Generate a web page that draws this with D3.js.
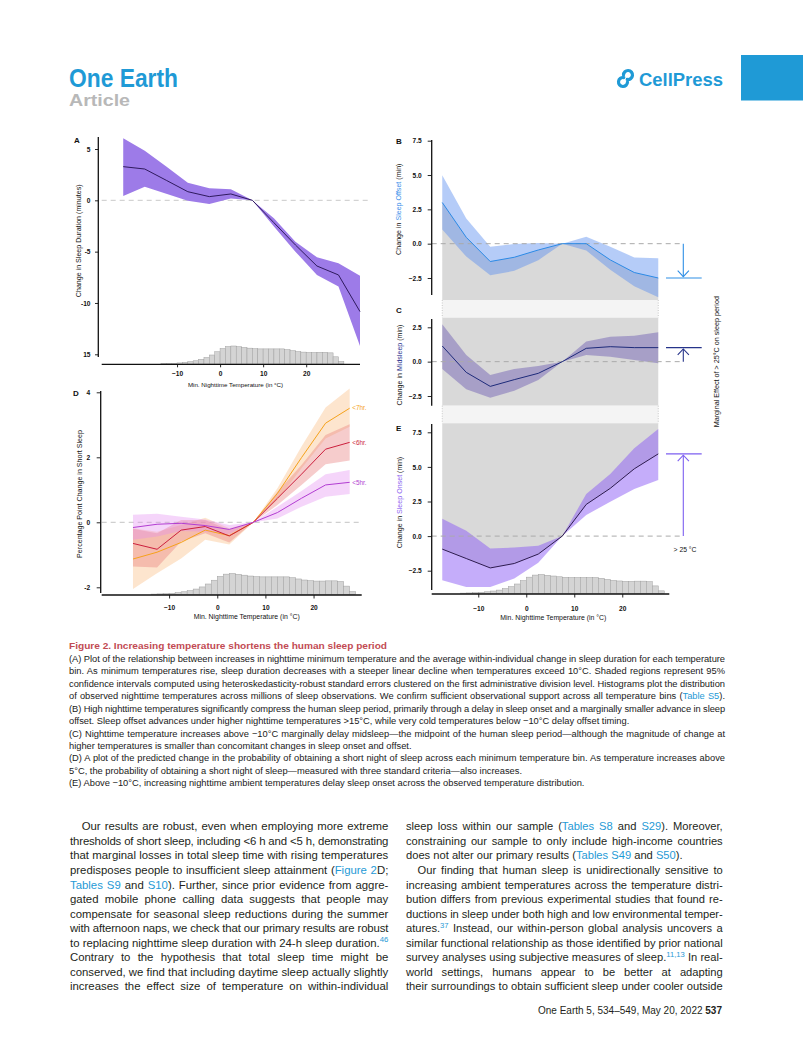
<!DOCTYPE html>
<html><head><meta charset="utf-8">
<script src="https://cdn.jsdelivr.net/npm/d3@7/dist/d3.min.js"></script>
<style>
html,body{margin:0;padding:0;background:#fff;}
svg{display:block;}
</style></head>
<body>
<svg id="page" width="803" height="1043" viewBox="0 0 803 1043"></svg>
<script>
// ================= DATA =================
const binsA = [-22.5,-17.5,-12.5,-7.5,-2.5,2.5,7.5,12.5,17.5,22.5,27.5,32.5];
const durationMid = [3.28,3.05,1.95,0.84,0.36,0.62,0,-2.18,-4.35,-6.4,-7.27,-10.84];
const durationLo  = [0.42,1.33,0.65,-0.03,-0.36,0.19,0,-2.56,-5.0,-7.27,-8.4,-14.2];
const durationHi  = [6.04,4.84,3.3,1.72,1.17,1.07,0,-1.75,-4.03,-5.55,-6.14,-7.34];

const bins = [-17.5,-12.5,-7.5,-2.5,2.5,7.5,12.5,17.5,22.5,27.5];
const offsetMid = [3.0,0.46,-1.3,-0.99,-0.46,0,0,-1.18,-2.1,-2.5];
const offsetLo  = [1.04,-0.94,-2.3,-1.98,-1.2,0,-0.5,-1.9,-3.1,-3.9];
const offsetHi  = [4.98,1.84,-0.22,-0.02,0.05,0,0.5,-0.22,-1.0,-1.06];

const midMid = [1.14,-0.78,-1.8,-1.31,-0.85,0,0.97,1.09,1.02,1.02];
const midLo  = [-0.53,-2.0,-2.62,-2.11,-1.33,0,0.49,0.36,0.12,-0.12];
const midHi  = [2.72,0.49,-0.97,-0.53,-0.32,0,1.46,1.82,1.89,2.14];

const onsetMid = [-0.94,-1.62,-2.3,-1.98,-1.3,0,2.29,3.45,4.86,5.94];
const onsetLo  = [-3.19,-3.67,-3.67,-3.07,-1.93,0,1.52,2.49,3.41,4.06];
const onsetHi  = [1.26,0.39,-0.9,-0.82,-0.7,0,3.04,4.49,6.35,7.73];

const short5Mid = [-0.16,-0.06,-0.03,-0.1,-0.22,0,0.3,0.74,1.15,1.23];
const short5Lo  = [-0.54,-0.44,-0.27,-0.29,-0.36,0,0.12,0.48,0.79,0.87];
const short5Hi  = [0.23,0.26,0.17,0.09,-0.08,0,0.48,0.96,1.48,1.61];
const short6Mid = [-0.65,-0.83,-0.24,-0.13,-0.42,0,0.74,1.48,2.25,2.46];
const short6Lo  = [-1.36,-1.39,-0.59,-0.34,-0.62,0,0.53,1.15,1.79,1.9];
const short6Hi  = [-0.2,-0.34,0.07,0.07,-0.24,0,0.94,1.76,2.69,3.02];
const short7Mid = [-1.13,-0.92,-0.62,-0.24,-0.41,0,0.89,1.99,3.05,3.51];
const short7Lo  = [-2.05,-1.57,-1.11,-0.54,-0.68,0,0.69,1.66,2.58,2.94];
const short7Hi  = [-0.18,-0.29,-0.08,0.14,-0.18,0,1.05,2.33,3.53,4.12];
const shortLabels = ["<5hr.","<6hr.","<7hr."];

const histBinStart = -13.75, histBinWidth = 1.25;
const histHeights = [0.02,0.03,0.04,0.06,0.09,0.13,0.18,0.26,0.36,0.50,0.68,0.86,0.97,1.0,0.96,0.92,0.88,0.85,0.84,0.84,0.84,0.84,0.84,0.80,0.74,0.69,0.66,0.64,0.64,0.65,0.65,0.62,0.40,0.14];

const ticksTemp = [-10,0,10,20];
const ticksA = [5,0,-5,-10,-15];
const tickLabelsA = ["5","0","-5","-10","15"];
const ticksD = [4,2,0,-2];
const tickLabelsD = ["4","2","0","-2"];
const ticksOffsetOnset = [7.5,5,2.5,0,-2.5];
const ticksMid = [2.5,0,-2.5];

// ================= SETUP =================
const svg = d3.select('#page');
const FONT = '"Liberation Sans", Arial, Helvetica, sans-serif';
const NARROW = '"Liberation Sans Narrow", "Liberation Sans", Arial, sans-serif';
const BLUE = '#1f9ad6';
const INK = '#111';

function txt(x, y, s, o = {}) {
  const t = svg.append('text').attr('x', x).attr('y', y).text(s)
    .attr('font-family', o.family || FONT).attr('font-size', o.size || 7)
    .attr('font-weight', o.weight || 'normal').attr('fill', o.fill || INK)
    .attr('text-anchor', o.anchor || 'start');
  if (o.rotate) t.attr('transform', `rotate(${o.rotate},${x},${y})`);
  if (o.len) t.attr('textLength', o.len).attr('lengthAdjust', 'spacingAndGlyphs');
  return t;
}

function axisLeftAt(scale, x, ticks, labels, y0, y1, tickSize, pad, fs) {
  const g = svg.append('g').attr('transform', `translate(${x},0)`)
    .call(d3.axisLeft(scale).tickValues(ticks).tickFormat((d, i) => labels[i]).tickSize(tickSize).tickPadding(pad));
  g.select('.domain').remove();
  g.attr('font-family', FONT).attr('font-size', fs).attr('font-weight', 'bold');
  g.selectAll('.tick line').attr('stroke', INK).attr('stroke-width', 0.9);
  g.selectAll('.tick text').attr('fill', INK);
  g.append('line').attr('x1', 0).attr('x2', 0).attr('y1', y0).attr('y2', y1).attr('stroke', INK).attr('stroke-width', 1.3);
}
function axisBottomAt(scale, y, ticks, x0, x1, tickSize, pad, fs) {
  const g = svg.append('g').attr('transform', `translate(0,${y})`)
    .call(d3.axisBottom(scale).tickValues(ticks).tickFormat(d3.format('d')).tickSize(tickSize).tickPadding(pad));
  g.select('.domain').remove();
  g.attr('font-family', FONT).attr('font-size', fs).attr('font-weight', 'bold');
  g.selectAll('.tick line').attr('stroke', INK).attr('stroke-width', 0.9);
  g.selectAll('.tick text').attr('fill', INK);
  g.append('line').attr('x1', x0).attr('x2', x1).attr('y1', 0).attr('y2', 0).attr('stroke', INK).attr('stroke-width', 1.3);
}
function histogram(xs, base, maxH) {
  const g = svg.append('g');
  g.selectAll('rect').data(histHeights).join('rect')
    .attr('x', (d, i) => xs(histBinStart + i * histBinWidth))
    .attr('width', (d, i) => xs(histBinStart + (i + 1) * histBinWidth) - xs(histBinStart + i * histBinWidth))
    .attr('y', d => base - d * maxH).attr('height', d => d * maxH)
    .attr('fill', '#d4d4d4').attr('stroke', '#a0a0a0').attr('stroke-width', 0.5);
}
function band(xs, ys, xv, lo, hi, fill, op) {
  const a = d3.area().x((d, i) => xs(xv[i])).y0((d, i) => ys(lo[i])).y1((d, i) => ys(hi[i]));
  svg.append('path').datum(xv).attr('d', a).attr('fill', fill).attr('fill-opacity', op);
}
function line(xs, ys, xv, v, color, w = 1) {
  const l = d3.line().x((d, i) => xs(xv[i])).y((d, i) => ys(v[i]));
  svg.append('path').datum(xv).attr('d', l).attr('fill', 'none').attr('stroke', color).attr('stroke-width', w).attr('stroke-linejoin', 'round');
}
function zeroLine(y, x0, x1, color = '#b5b5b5') {
  svg.append('line').attr('x1', x0).attr('x2', x1).attr('y1', y).attr('y2', y)
    .attr('stroke', color).attr('stroke-width', 1).attr('stroke-dasharray', '5,4');
}

// ================= HEADER =================
txt(69, 86.7, 'One Earth', {family: NARROW, weight: 'bold', size: 25, fill: BLUE, len: 109});
txt(69, 105.5, 'Article', {family: NARROW, weight: 'bold', size: 16, fill: '#b8b8b8', len: 61});
svg.append('rect').attr('x', 741).attr('y', 55).attr('width', 62).attr('height', 45.5).attr('fill', BLUE);
txt(639, 85.7, 'CellPress', {family: NARROW, weight: 'bold', size: 19, fill: BLUE, len: 84});
const logo = svg.append('g').attr('transform', 'translate(625.5,78.5)')
  .attr('fill', 'none').attr('stroke', BLUE).attr('stroke-width', 3.2).attr('stroke-linecap', 'round');
logo.append('path').attr('d', 'M -2 -3.5 A 4.5 4.5 0 1 1 1.72 0.93');
logo.append('path').attr('d', 'M 2 3.5 A 4.5 4.5 0 1 1 -1.72 -0.93');

// ================= PANEL A =================
const xA = d3.scaleLinear().domain([-27.5, 32.5]).range([101.7, 360]);
const yA = d3.scaleLinear().domain([-15, 5]).range([354.3, 149]);
histogram(xA, 364, 18);
zeroLine(yA(0), 101.7, 370, '#c9c9c9');
band(xA, yA, binsA, durationLo, durationHi, '#9d7be8', 1);
line(xA, yA, binsA, durationMid, '#2f1a5e', 1);
axisLeftAt(yA, 98.3, ticksA, tickLabelsA, 137, 357, 3.3, 4.5, 6.6);
axisBottomAt(xA, 364.3, ticksTemp, 101.7, 360, 3, 4.2, 6.6);
txt(74, 143, 'A', {weight: 'bold', size: 8});
txt(81.5, 240.8, 'Change in Sleep Duration (minutes)', {size: 7.1, anchor: 'middle', rotate: -90});
txt(235.5, 387.2, 'Min. Nighttime Temperature (in °C)', {size: 6.2, anchor: 'middle'});

// ================= PANEL D =================
const xD = d3.scaleLinear().domain([-24, 30]).range([101.7, 361.7]);
const yD = d3.scaleLinear().domain([-2, 4]).range([587.3, 392.3]);
zeroLine(yD(0), 101.7, 362, '#c3c3c3');
band(xD, yD, bins, short7Lo, short7Hi, '#f9b878', 0.36);
band(xD, yD, bins, short6Lo, short6Hi, '#e87878', 0.38);
band(xD, yD, bins, short5Lo, short5Hi, '#e48af0', 0.36);
histogram(xD, 594.5, 21);
line(xD, yD, bins, short7Mid, '#f5a21b', 1);
line(xD, yD, bins, short6Mid, '#cc1f3d', 1);
line(xD, yD, bins, short5Mid, '#b23dd2', 1);
const shortLast = [short5Mid, short6Mid, short7Mid].map(a => a[a.length - 1]);
const shortCols = ['#b23dd2', '#cc1f3d', '#f5a21b'];
shortLabels.forEach((s, i) => txt(xD(bins[bins.length - 1]) + 2.5, yD(shortLast[i]) + 2.2, s, {size: 6.4, fill: shortCols[i]}));
axisLeftAt(yD, 100.7, ticksD, tickLabelsD, 391, 593, 4, 6.5, 6.6);
axisBottomAt(xD, 595, ticksTemp, 101.7, 361.7, 3.5, 6.9, 6.6);
txt(73, 395.5, 'D', {weight: 'bold', size: 8});
txt(81.5, 494, 'Percentage Point Change in Short Sleep', {size: 7.1, anchor: 'middle', rotate: -90});
txt(246.7, 619.3, 'Min. Nighttime Temperature (in °C)', {size: 6.9, anchor: 'middle'});

// ================= PANELS B, C, E =================
const xR = d3.scaleLinear().domain([-19.7, 29.8]).range([431.7, 669.3]);
const yB = d3.scaleLinear().domain([-2.5, 7.5]).range([278, 140.7]);
const yC = d3.scaleLinear().domain([-2.5, 2.5]).range([396, 327.3]);
const yE = d3.scaleLinear().domain([-2.5, 7.5]).range([570.7, 432.3]);
const GRAY = '#d9d9d9';
const colL = xR(bins[0]), colR = xR(bins[bins.length - 1]);
const bBottom = 300, cTop = 317.7, cBottom = 405.7, eTop = 423.3;

// sleep-period column
svg.append('path').datum(bins).attr('fill', GRAY)
  .attr('d', d3.area().x((d, i) => xR(bins[i])).y0(bBottom).y1((d, i) => yB(offsetMid[i])));
svg.append('rect').attr('x', colL).attr('y', bBottom).attr('width', colR - colL).attr('height', cTop - bBottom).attr('fill', '#f4f4f4');
svg.append('rect').attr('x', colL).attr('y', cTop).attr('width', colR - colL).attr('height', cBottom - cTop).attr('fill', GRAY);
svg.append('rect').attr('x', colL).attr('y', cBottom).attr('width', colR - colL).attr('height', eTop - cBottom).attr('fill', '#f4f4f4');
svg.append('path').datum(bins).attr('fill', GRAY)
  .attr('d', d3.area().x((d, i) => xR(bins[i])).y0(eTop).y1((d, i) => yE(onsetMid[i])));
[[bBottom, cTop], [cBottom, eTop]].forEach(([a, b]) => {
  [colL, colR].forEach(x => svg.append('line').attr('x1', x).attr('x2', x).attr('y1', a).attr('y2', b)
    .attr('stroke', '#bdbdbd').attr('stroke-width', 0.8).attr('stroke-dasharray', '1,1.5'));
});

band(xR, yB, bins, offsetLo, offsetHi, '#5a8ff0', 0.45);
band(xR, yC, bins, midLo, midHi, '#7565b5', 0.5);
band(xR, yE, bins, onsetLo, onsetHi, '#8c5cf5', 0.5);
histogram(xR, 593.5, 19);

const arrowX = 683.3;
zeroLine(yB(0), 431.7, arrowX, '#aaaaaa');
zeroLine(yC(0), 431.7, arrowX, '#aaaaaa');
zeroLine(yE(0), 431.7, arrowX, '#aaaaaa');

line(xR, yB, bins, offsetMid, '#2b8ae6', 1);
line(xR, yC, bins, midMid, '#1d2a7a', 1);
line(xR, yE, bins, onsetMid, '#2d1b4e', 1);

function marginalArrow(ys, series, color) {
  const v = series[series.length - 1];
  const yv = ys(v), y0 = ys(0);
  const dir = v < 0 ? 1 : -1;          // 1 = pointing down
  const tip = yv - dir * 1.3;
  const g = svg.append('g').attr('stroke', color).attr('fill', 'none').attr('stroke-width', 1.1);
  g.append('line').attr('x1', 666).attr('x2', 701.7).attr('y1', yv).attr('y2', yv);
  g.append('line').attr('x1', arrowX).attr('x2', arrowX).attr('y1', y0).attr('y2', tip);
  g.append('polyline').attr('points', `${arrowX - 5.6},${tip - dir * 6} ${arrowX},${tip} ${arrowX + 5.6},${tip - dir * 6}`);
}
marginalArrow(yB, offsetMid, '#2f8fe6');
marginalArrow(yC, midMid, '#26348a');
marginalArrow(yE, onsetMid, '#7d5ff0');
txt(685, 551.8, '> 25 °C', {size: 6.8, anchor: 'middle'});
txt(719.3, 361.7, 'Marginal Effect of > 25°C on sleep period', {size: 7.2, anchor: 'middle', rotate: -90});

axisLeftAt(yB, 431.7, ticksOffsetOnset, ticksOffsetOnset.map(d3.format('.1f')), 140, 295, 4, 6, 6.6);
axisLeftAt(yC, 431.7, ticksMid, ticksMid.map(d3.format('.1f')), 319, 405.7, 4, 6, 6.6);
axisLeftAt(yE, 431.7, ticksOffsetOnset, ticksOffsetOnset.map(d3.format('.1f')), 424, 590, 4, 6, 6.6);
axisBottomAt(xR, 594, ticksTemp, 431.7, 669.3, 3.5, 8.5, 6.6);
txt(396, 144, 'B', {weight: 'bold', size: 8});
txt(396, 313, 'C', {weight: 'bold', size: 8});
txt(396, 430.5, 'E', {weight: 'bold', size: 8});

function colouredTitle(x, y, pre, key, post, colour) {
  const t = svg.append('text').attr('x', x).attr('y', y).attr('font-family', FONT).attr('font-size', 7.1)
    .attr('fill', INK).attr('text-anchor', 'middle').attr('transform', `rotate(-90,${x},${y})`);
  t.append('tspan').text(pre);
  t.append('tspan').text(key).attr('fill', colour);
  t.append('tspan').text(post);
}
colouredTitle(401.5, 209.2, 'Change in ', 'Sleep Offset', ' (min)', '#3b8fea');
colouredTitle(401.5, 365, 'Change in ', 'Midsleep', ' (min)', '#2c3590');
colouredTitle(401.5, 502.5, 'Change in ', 'Sleep Onset', ' (min)', '#8b63f0');
txt(553.3, 620, 'Min. Nighttime Temperature (in °C)', {size: 6.9, anchor: 'middle'});

// ================= TEXT BLOCKS =================
function makeLine(x, y, parts, size, fill) {
  const t = svg.append('text').attr('x', x).attr('y', y).attr('font-family', FONT)
    .attr('font-size', size).attr('fill', fill);
  let shift = 0;
  parts.forEach(p => {
    if (typeof p === 'string') p = {t: p};
    const ts = t.append('tspan').text(p.t);
    if (p.c) ts.attr('fill', p.c);
    if (p.b) ts.attr('font-weight', 'bold');
    if (p.sup) { ts.attr('font-size', size * 0.68).attr('dy', -size * 0.4); shift = size * 0.4; }
    else if (shift) { ts.attr('dy', shift); shift = 0; }
  });
  return t;
}
function justify(t, W) {
  const len = t.node().getComputedTextLength();
  const s = t.text();
  const spaces = (s.match(/ /g) || []).length;
  if (len < W && spaces) t.style('word-spacing', ((W - len) / spaces) + 'px');
  else if (len > W) t.style('letter-spacing', ((W - len) / s.length) + 'px');
}
function calibrate(lines, W, base) {
  const ratios = [];
  lines.forEach(L => {
    if (!L.j) return;
    const t = makeLine(0, -50, L.p, base, '#000');
    ratios.push((W - (L.ind || 0)) / t.node().getComputedTextLength());
    t.remove();
  });
  ratios.sort((a, b) => a - b);
  return base * ratios[Math.floor(ratios.length * 0.3)];
}
function block(lines, x0, y0, dy, W, base, fill) {
  const fs = calibrate(lines, W, base);
  lines.forEach((L, i) => {
    const ind = L.ind || 0;
    const t = makeLine(x0 + ind, y0 + i * dy, L.p, fs, fill);
    if (L.j) justify(t, W - ind);
    else if (t.node().getComputedTextLength() > W - ind) justify(t, W - ind);
  });
}

// caption
txt(69, 649.3, 'Figure 2. Increasing temperature shortens the human sleep period', {size: 9.3, weight: 'bold', fill: '#c24b53', len: 318});
const captionLines = [
  {j: 1, p: ['(A) Plot of the relationship between increases in nighttime minimum temperature and the average within-individual change in sleep duration for each temperature']},
  {j: 1, p: ['bin. As minimum temperatures rise, sleep duration decreases with a steeper linear decline when temperatures exceed 10°C. Shaded regions represent 95%']},
  {j: 1, p: ['confidence intervals computed using heteroskedasticity-robust standard errors clustered on the first administrative division level. Histograms plot the distribution']},
  {j: 1, p: ['of observed nighttime temperatures across millions of sleep observations. We confirm sufficient observational support across all temperature bins (', {t: 'Table S5', c: BLUE}, ').']},
  {j: 1, p: ['(B) High nighttime temperatures significantly compress the human sleep period, primarily through a delay in sleep onset and a marginally smaller advance in sleep']},
  {j: 0, p: ['offset. Sleep offset advances under higher nighttime temperatures >15°C, while very cold temperatures below \u221210°C delay offset timing.']},
  {j: 1, p: ['(C) Nighttime temperature increases above \u221210°C marginally delay midsleep\u2014the midpoint of the human sleep period\u2014although the magnitude of change at']},
  {j: 0, p: ['higher temperatures is smaller than concomitant changes in sleep onset and offset.']},
  {j: 1, p: ['(D) A plot of the predicted change in the probability of obtaining a short night of sleep across each minimum temperature bin. As temperature increases above']},
  {j: 0, p: ['5°C, the probability of obtaining a short night of sleep\u2014measured with three standard criteria\u2014also increases.']},
  {j: 0, p: ['(E) Above \u221210°C, increasing nighttime ambient temperatures delay sleep onset across the observed temperature distribution.']}
];
block(captionLines, 69, 662, 12.43, 656, 8.4, '#1a1a1a');

// body text
const leftLines = [
  {j: 1, ind: 11.7, p: ['Our results are robust, even when employing more extreme']},
  {j: 1, p: ['thresholds of short sleep, including <6 h and <5 h, demonstrating']},
  {j: 1, p: ['that marginal losses in total sleep time with rising temperatures']},
  {j: 1, p: ['predisposes people to insufficient sleep attainment (', {t: 'Figure 2', c: BLUE}, 'D;']},
  {j: 1, p: [{t: 'Tables S9', c: BLUE}, ' and ', {t: 'S10', c: BLUE}, '). Further, since prior evidence from aggre-']},
  {j: 1, p: ['gated mobile phone calling data suggests that people may']},
  {j: 1, p: ['compensate for seasonal sleep reductions during the summer']},
  {j: 1, p: ['with afternoon naps, we check that our primary results are robust']},
  {j: 1, p: ['to replacing nighttime sleep duration with 24-h sleep duration.', {t: '46', c: BLUE, sup: 1}]},
  {j: 1, p: ['Contrary to the hypothesis that total sleep time might be']},
  {j: 1, p: ['conserved, we find that including daytime sleep actually slightly']},
  {j: 1, p: ['increases the effect size of temperature on within-individual']}
];
const rightLines = [
  {j: 1, p: ['sleep loss within our sample (', {t: 'Tables S8', c: BLUE}, ' and ', {t: 'S29', c: BLUE}, '). Moreover,']},
  {j: 1, p: ['constraining our sample to only include high-income countries']},
  {j: 0, p: ['does not alter our primary results (', {t: 'Tables S49', c: BLUE}, ' and ', {t: 'S50', c: BLUE}, ').']},
  {j: 1, ind: 11.5, p: ['Our finding that human sleep is unidirectionally sensitive to']},
  {j: 1, p: ['increasing ambient temperatures across the temperature distri-']},
  {j: 1, p: ['bution differs from previous experimental studies that found re-']},
  {j: 1, p: ['ductions in sleep under both high and low environmental temper-']},
  {j: 1, p: ['atures.', {t: '37', c: BLUE, sup: 1}, ' Instead, our within-person global analysis uncovers a']},
  {j: 1, p: ['similar functional relationship as those identified by prior national']},
  {j: 1, p: ['survey analyses using subjective measures of sleep.', {t: '11,13', c: BLUE, sup: 1}, ' In real-']},
  {j: 1, p: ['world settings, humans appear to be better at adapting']},
  {j: 1, p: ['their surroundings to obtain sufficient sleep under cooler outside']}
];
block(leftLines, 70, 830.3, 14.55, 318.3, 10, '#231f20');
block(rightLines, 406, 830.3, 14.55, 316.7, 10, '#231f20');

// footer
const ft = svg.append('text').attr('x', 722).attr('y', 1013.5).attr('font-family', FONT)
  .attr('font-size', 10).attr('fill', '#231f20').attr('text-anchor', 'end');
ft.append('tspan').text('One Earth 5, 534\u2013549, May 20, 2022  ');
ft.append('tspan').text('537').attr('font-weight', 'bold');
</script>
</body></html>
